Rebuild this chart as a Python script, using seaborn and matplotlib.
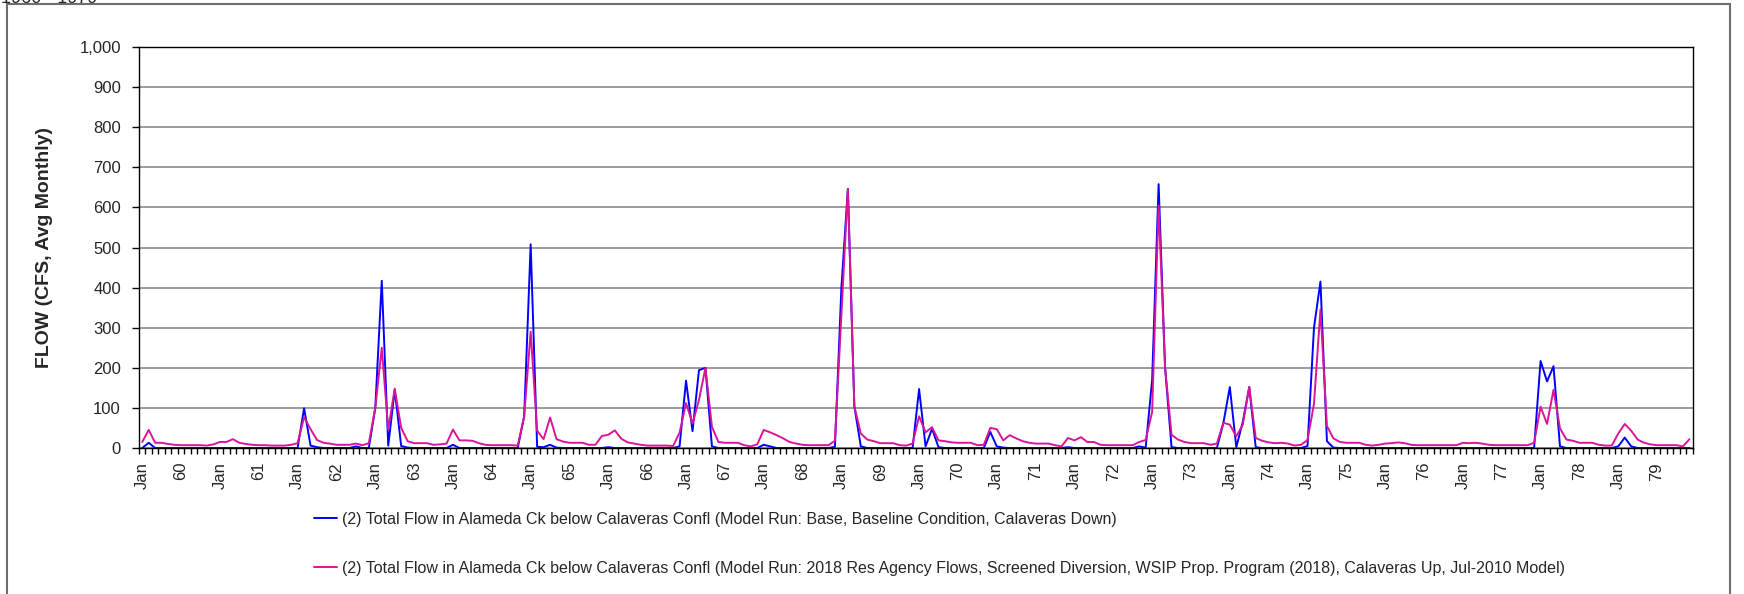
import matplotlib
matplotlib.use('Agg')
import matplotlib.pyplot as plt
from matplotlib.patches import Rectangle
import matplotlib.ticker as mticker
import numpy as np
import pandas as pd
import seaborn as sns

# ---- data (monthly average flow, cfs), Jan 1960 .. Dec 1979 ----
years = list(range(1960, 1980))
month_names = ['Jan', 'Feb', 'Mar', 'Apr', 'May', 'Jun',
               'Jul', 'Aug', 'Sep', 'Oct', 'Nov', 'Dec']

base_label = ('(2) Total Flow in Alameda Ck below Calaveras Confl '
              '(Model Run: Base, Baseline Condition, Calaveras Down)')
proj_label = ('(2) Total Flow in Alameda Ck below Calaveras Confl '
              '(Model Run: 2018 Res Agency Flows, Screened Diversion, '
              'WSIP Prop. Program (2018), Calaveras Up, Jul-2010 Model)')

base_flow = [
    0, 13, 0, 0, 0, 0, 0, 0, 0, 0, 0, 0,            # 1960
    0, 0, 0, 0, 0, 0, 0, 0, 0, 0, 0, 0,             # 1961
    0, 99, 6, 2, 0, 0, 0, 0, 0, 4, 0, 0,            # 1962
    100, 417, 6, 145, 5, 1, 0, 0, 0, 0, 0, 0,       # 1963
    8, 0, 0, 0, 0, 0, 0, 0, 0, 0, 0, 79,            # 1964
    508, 3, 2, 8, 1, 0, 0, 0, 0, 0, 0, 0,           # 1965
    2, 0, 0, 0, 0, 0, 0, 0, 0, 0, 0, 4,             # 1966
    168, 42, 194, 200, 4, 0, 0, 0, 0, 0, 0, 0,      # 1967
    8, 4, 0, 0, 0, 0, 0, 0, 0, 0, 0, 3,             # 1968
    400, 646, 104, 4, 0, 0, 0, 0, 0, 0, 0, 0,       # 1969
    147, 4, 48, 2, 0, 0, 0, 0, 0, 0, 0, 40,         # 1970
    4, 1, 0, 0, 0, 0, 0, 0, 0, 0, 0, 2,             # 1971
    0, 0, 0, 0, 0, 0, 0, 0, 0, 0, 4, 1,             # 1972
    170, 658, 200, 2, 0, 0, 0, 0, 0, 0, 0, 62,      # 1973
    152, 2, 65, 152, 2, 0, 0, 0, 0, 0, 0, 0,        # 1974
    5, 300, 415, 17, 1, 0, 0, 0, 0, 0, 0, 0,        # 1975
    0, 0, 0, 0, 0, 0, 0, 0, 0, 0, 0, 0,             # 1976
    0, 0, 0, 0, 0, 0, 0, 0, 0, 0, 0, 0,             # 1977
    217, 166, 204, 4, 0, 0, 0, 0, 0, 0, 0, 0,       # 1978
    4, 26, 4, 0, 0, 0, 0, 0, 0, 0, 0, 0,            # 1979
]

proj_flow = [
    15, 45, 13, 13, 10, 8, 7, 7, 7, 7, 6, 9,        # 1960
    15, 15, 22, 13, 10, 8, 7, 7, 6, 6, 6, 8,        # 1961
    12, 77, 47, 20, 13, 11, 8, 8, 8, 11, 7, 12,     # 1962
    100, 250, 46, 148, 50, 17, 12, 12, 12, 8, 9, 11,  # 1963
    46, 19, 19, 18, 12, 8, 7, 7, 7, 7, 6, 79,       # 1964
    290, 43, 22, 76, 22, 16, 13, 13, 13, 8, 8, 30,  # 1965
    33, 44, 23, 14, 11, 8, 6, 6, 6, 6, 5, 38,       # 1966
    112, 61, 120, 200, 53, 15, 13, 13, 13, 7, 4, 9,  # 1967
    45, 39, 32, 24, 15, 11, 8, 7, 7, 7, 7, 18,      # 1968
    330, 646, 104, 36, 21, 17, 12, 12, 12, 7, 6, 11,  # 1969
    79, 39, 52, 19, 17, 14, 13, 13, 13, 7, 8, 50,   # 1970
    47, 19, 32, 24, 17, 13, 11, 11, 11, 7, 4, 25,   # 1971
    19, 27, 15, 15, 8, 7, 7, 7, 7, 7, 15, 20,       # 1972
    90, 605, 200, 33, 21, 15, 12, 12, 12, 8, 11, 63,  # 1973
    58, 29, 58, 152, 25, 18, 14, 12, 13, 11, 6, 8,  # 1974
    20, 110, 345, 55, 24, 15, 13, 13, 13, 8, 6, 8,  # 1975
    11, 12, 14, 12, 8, 7, 7, 7, 7, 7, 7, 7,         # 1976
    13, 12, 13, 11, 8, 7, 7, 7, 7, 7, 7, 13,        # 1977
    103, 60, 145, 49, 21, 18, 13, 13, 13, 8, 6, 6,  # 1978
    36, 60, 43, 21, 13, 9, 7, 7, 7, 7, 4, 22,       # 1979
]

# ---- setup ----
sns.set_style('white')
plt.rcParams['font.family'] = ['Liberation Sans', 'DejaVu Sans']

n = len(base_flow)
month_idx = np.arange(n)
df = pd.concat([
    pd.DataFrame({'month': month_idx, 'flow': base_flow, 'run': base_label}),
    pd.DataFrame({'month': month_idx, 'flow': proj_flow, 'run': proj_label}),
])

W, H = 1744, 594
fig = plt.figure(figsize=(W / 100, H / 100), dpi=100)
ax = fig.add_axes([139 / W, 1 - 448 / H, (1692.7 - 139) / W, (448 - 47) / H])

sns.lineplot(data=df, x='month', y='flow', hue='run',
             palette=['#0000FF', '#DC1496'], linewidth=1.4, ax=ax)

# y axis
ax.set_ylim(0, 1000)
ax.yaxis.set_major_locator(mticker.MultipleLocator(100))
ax.yaxis.set_major_formatter(mticker.FuncFormatter(lambda v, p: f'{v:,.0f}'))
ax.grid(axis='y', color='#808080', linewidth=1.1)
ax.set_axisbelow(True)
ax.tick_params(axis='y', direction='out', length=5, width=1, pad=8,
               labelsize=12, left=True, color='black')
ax.set_ylabel('FLOW (CFS, Avg Monthly)', fontsize=14, fontweight='bold')
ax.yaxis.set_label_coords(-0.0554, 0.5)

# x axis: one slot per month, Jan and mid-year labels
ax.set_xlim(-0.5, n - 0.5)
label_pos, label_txt = [], []
for i in range(n):
    if i % 12 == 0:
        label_pos.append(i)
        label_txt.append(month_names[0])
    elif i % 12 == 6:
        label_pos.append(i)
        label_txt.append(str(years[i // 12])[2:])
ax.set_xticks(label_pos)
ax.set_xticklabels(label_txt, rotation=90, fontsize=12)
ax.set_xticks(np.arange(-0.5, n, 1), minor=True)
ax.tick_params(axis='x', which='major', length=0, pad=10)
ax.tick_params(axis='x', which='minor', direction='out', length=4,
               width=1, bottom=True, color='black')
ax.set_xlabel('')

for s in ax.spines.values():
    s.set_visible(True)
    s.set_color('black')
    s.set_linewidth(1)

# legend below the plot
handles, labels = ax.get_legend_handles_labels()
ax.get_legend().remove()
fig.legend(handles, labels, loc='upper left', frameon=False,
           bbox_to_anchor=(314 / W, 1 - 512 / H), borderpad=0,
           borderaxespad=0, fontsize=11.5, handlelength=1.45,
           handletextpad=0.3, labelspacing=2.1)

# outer chart frame and clipped title
fig.add_artist(Rectangle((7 / W, -0.1), (1730 - 7) / W, 1 - 4 / H + 0.1,
                         fill=False, edgecolor='#6e6e6e', linewidth=1.5,
                         transform=fig.transFigure))
fig.text(1 / W, 1 - 3 / H, '1960 - 1979', fontsize=13, va='baseline', ha='left')

fig.savefig('out.png', dpi=100)
